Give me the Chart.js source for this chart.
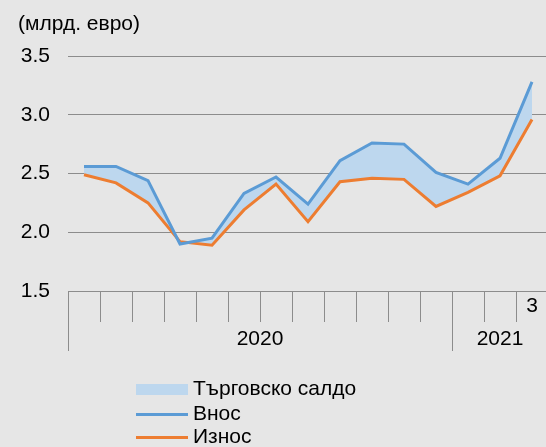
<!DOCTYPE html>
<html>
<head>
<meta charset="utf-8">
<script src="https://cdn.jsdelivr.net/npm/chart.js@4.4.1/dist/chart.umd.min.js"></script>
<style>
html, body { margin: 0; padding: 0; background: #e6e6e6; overflow: hidden; }
#wrap { position: relative; width: 548px; height: 447px; font-family: "Liberation Sans", Arial, sans-serif; color: #000; }
#unit { position: absolute; left: 18px; top: 11px; font-size: 21px; }
.leg { position: absolute; left: 136px; height: 24px; line-height: 24px; font-size: 21px; white-space: nowrap; }
.leg span { display: inline-block; vertical-align: middle; width: 52px; margin-right: 5px; }
</style>
</head>
<body>
<div id="wrap">
  <canvas id="plot-id" width="548" height="447"></canvas>
  <div id="unit">(млрд. евро)</div>
  <div class="leg" style="top: 376px;"><span style="height: 11px; background: #bdd7ee;"></span>Търговско салдо</div>
  <div class="leg" style="top: 401px;"><span style="height: 3px; background: #5b9bd5;"></span>Внос</div>
  <div class="leg" style="top: 424px;"><span style="height: 3px; background: #ed7d31;"></span>Износ</div>
</div>
<script>
// months Jan 2020 - Mar 2021, only the last one is labelled
let tick_labels = ['', '', '', '', '', '', '', '', '', '', '', '', '', '', '3'];
let imports = [2.56, 2.56, 2.44, 1.90, 1.95, 2.33, 2.47, 2.24, 2.61, 2.76, 2.75, 2.51, 2.41, 2.63, 3.28];
let exports_ = [2.49, 2.42, 2.25, 1.92, 1.89, 2.19, 2.41, 2.09, 2.43, 2.46, 2.45, 2.22, 2.34, 2.48, 2.96];
let years = ['2020', '2021'];
let year_start = [0, 12];
let year_end = [11, 14];

const grid_col = '#8c8c8c';
const font_fam = '"Liberation Sans", Arial, sans-serif';

// year separators and year labels under the month ticks
const year_axis = {
    id: 'yearAxis',
    afterDraw(chart) {
        const ctx = chart.ctx;
        const x = chart.scales.x;
        const half = (x.getPixelForValue(1) - x.getPixelForValue(0)) / 2;
        const top = chart.chartArea.bottom;
        ctx.save();
        ctx.strokeStyle = grid_col;
        ctx.lineWidth = 1;
        ctx.fillStyle = '#000';
        ctx.font = '21px ' + font_fam;
        ctx.textAlign = 'center';
        ctx.textBaseline = 'middle';
        for (let i = 0; i < years.length; i++) {
            let x0 = x.getPixelForValue(year_start[i]) - half;
            let x1 = x.getPixelForValue(year_end[i]) + half;
            ctx.beginPath();
            ctx.moveTo(Math.round(x0) + 0.5, top);
            ctx.lineTo(Math.round(x0) + 0.5, top + 60);
            ctx.stroke();
            ctx.fillText(years[i], (x0 + x1) / 2, top + 48);
        }
        ctx.restore();
    }
};

var ctx = document.getElementById('plot-id');
var chart = new Chart(ctx, {
    type: 'line',
    data: {
        labels: tick_labels,
        datasets: [
            {
                label: 'Внос',
                data: imports,
                borderColor: '#5b9bd5',
                backgroundColor: '#bdd7ee',
                borderWidth: 3,
                pointRadius: 0,
                tension: 0,
                fill: '+1'
            },
            {
                label: 'Износ',
                data: exports_,
                borderColor: '#ed7d31',
                borderWidth: 3,
                pointRadius: 0,
                tension: 0,
                fill: false
            }
        ]
    },
    plugins: [year_axis],
    options: {
        responsive: false,
        animation: false,
        layout: { padding: { left: 0, right: 0, top: 56, bottom: 124 } },
        plugins: {
            legend: { display: false },
            tooltip: { enabled: false },
            filler: { drawTime: 'beforeDatasetsDraw' }
        },
        scales: {
            x: {
                offset: true,
                afterFit: (s) => { s.height = 32; },
                grid: {
                    offset: true,
                    drawOnChartArea: false,
                    drawTicks: true,
                    tickLength: 31,
                    color: grid_col
                },
                border: { display: true, color: grid_col },
                ticks: {
                    autoSkip: false,
                    maxRotation: 0,
                    padding: -28,
                    color: '#000',
                    font: { family: font_fam, size: 21 }
                }
            },
            y: {
                min: 1.5,
                max: 3.5,
                afterFit: (s) => { s.width = 68; },
                grid: { color: grid_col, drawTicks: false },
                border: { display: false },
                ticks: {
                    stepSize: 0.5,
                    padding: 18,
                    color: '#000',
                    font: { family: font_fam, size: 21 },
                    callback: (v) => v.toFixed(1)
                }
            }
        }
    }
});
</script>
</body>
</html>
